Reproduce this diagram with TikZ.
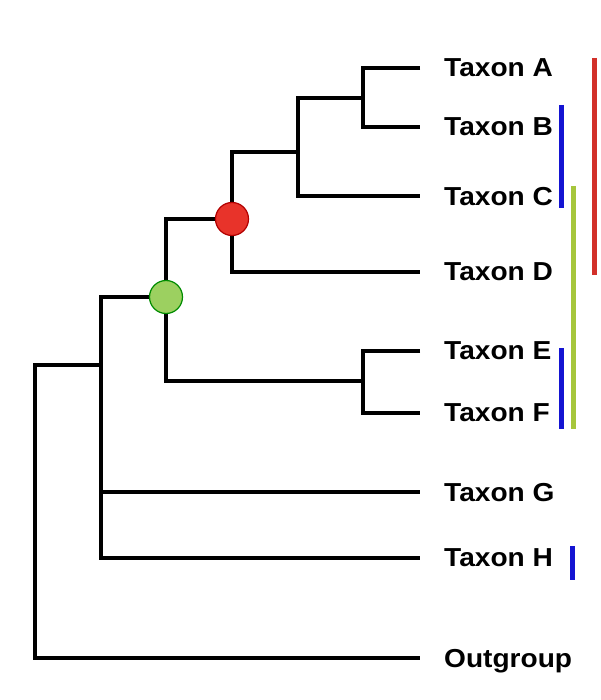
\documentclass[tikz,border=0pt]{standalone}
\usepackage{fontspec}
\setmainfont{Liberation Sans}[FakeStretch=1.08]
\usepackage{tikz}
\usetikzlibrary{positioning}

\definecolor{eventred}{HTML}{E8332A}
\definecolor{eventgreen}{HTML}{9CD060}
\definecolor{cladeblue}{HTML}{1414D2}
\definecolor{cladegreen}{HTML}{A6C63C}
\definecolor{cladered}{HTML}{D2302A}

\begin{document}
\begin{tikzpicture}[
    x=1pt, y=-1pt,
    branch/.style={line width=4.5pt},
    taxon/.style={anchor=west, inner sep=0pt, text depth=0pt,
                  font=\bfseries\fontsize{26}{26}\selectfont},
    event/.style={circle, inner sep=0pt, minimum size=33pt, line width=1.2pt},
    clade/.style={line width=5pt}
]
    \useasboundingbox (0,0) rectangle (600,700);

    % tips
    \coordinate (tA) at (420,68);
    \coordinate (tB) at (420,127);
    \coordinate (tC) at (420,196);
    \coordinate (tD) at (420,272);
    \coordinate (tE) at (420,351);
    \coordinate (tF) at (420,413);
    \coordinate (tG) at (420,492);
    \coordinate (tH) at (420,558);
    \coordinate (tO) at (420,658);

    % internal nodes
    \coordinate (nAB)  at (363,98);
    \coordinate (nABC) at (298,152);
    \coordinate (nABCD) at (232,219);
    \coordinate (nEF)  at (363,381);
    \coordinate (nAF)  at (166,297);
    \coordinate (nAH)  at (101,365);
    \coordinate (root) at (35,500);

    % branches
    \draw[branch] (tA) -| (nAB) |- (tB);
    \draw[branch] (nAB) -| (nABC) |- (tC);
    \draw[branch] (nABC) -| (nABCD) |- (tD);
    \draw[branch] (tE) -| (nEF) |- (tF);
    \draw[branch] (nABCD) -| (nAF) |- (nEF);
    \draw[branch] (nAF) -| (nAH) |- (tH);
    \draw[branch] (nAH |- tG) -- (tG);
    \draw[branch] (nAH) -| (root) |- (tO);

    % events
    \node[event, draw=red!70!black, fill=eventred] (redev) at (nABCD) {};
    \node[event, draw=green!55!black, fill=eventgreen] (greenev) at (nAF) {};

    % labels
    \node[taxon, right=24pt of tA] (lA) {Taxon A};
    \node[taxon, right=24pt of tB] (lB) {Taxon B};
    \node[taxon, right=24pt of tC] (lC) {Taxon C};
    \node[taxon, right=24pt of tD] (lD) {Taxon D};
    \node[taxon, right=24pt of tE] (lE) {Taxon E};
    \node[taxon, right=24pt of tF] (lF) {Taxon F};
    \node[taxon, right=24pt of tG] (lG) {Taxon G};
    \node[taxon, right=24pt of tH] (lH) {Taxon H};
    \node[taxon, right=24pt of tO] (lO) {Outgroup};

    % clade bars
    \draw[clade, cladered]   (594,58)  -- (594,275);
    \draw[clade, cladeblue]  (561,105) -- (561,208);
    \draw[clade, cladegreen] (573,186) -- (573,429);
    \draw[clade, cladeblue]  (561,348) -- (561,429);
    \draw[clade, cladeblue]  (572,546) -- (572,580);
\end{tikzpicture}
\end{document}
